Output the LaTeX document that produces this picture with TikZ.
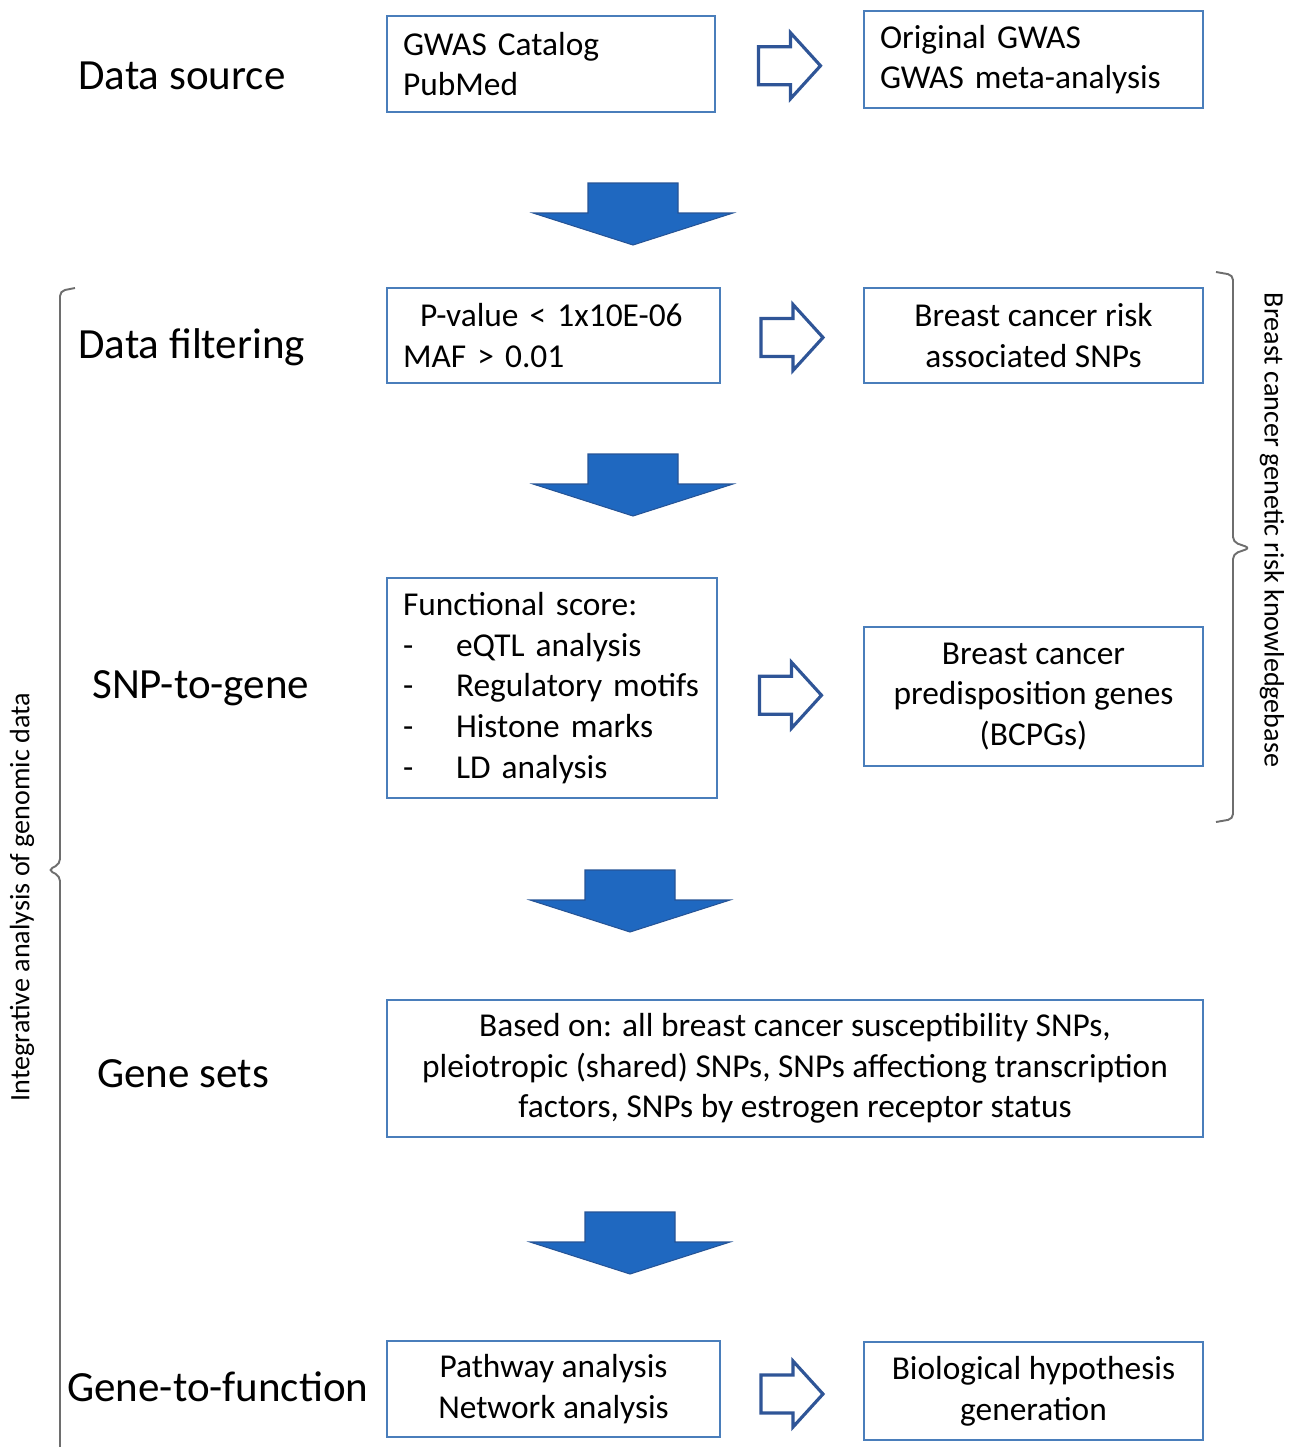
\documentclass[tikz,border=0pt]{standalone}
\usepackage{fontspec}
\setmainfont{Carlito}
\definecolor{BoxBlue}{RGB}{74,126,187}
\definecolor{ArrowBlue}{RGB}{31,104,192}
\definecolor{ArrowEdge}{RGB}{38,84,150}
\definecolor{HollowBlue}{RGB}{47,85,151}
\definecolor{BraceGray}{RGB}{110,110,110}
\usetikzlibrary{calc}
\newcommand{\listdash}{\makebox[1.06cm][l]{-}}

\tikzset{
  box/.style={draw=BoxBlue, line width=1.1pt, inner xsep=0.32cm, inner ysep=0pt,
              font=\fontsize{19}{23.2}\selectfont},
  stage/.style={anchor=west, inner sep=0pt, font=\fontsize{24.5}{29}\selectfont},
  sidetext/.style={font=\fontsize{16}{19}\selectfont},
  brace/.style={draw=BraceGray, line width=1.1pt, rounded corners=0.1cm},
  down arrow/.pic={
    \draw[fill=ArrowBlue, draw=ArrowEdge, line width=0.6pt]
      (-45,0) -- (45,0) -- (45,30) -- (100,30) -- (0,62) -- (-100,30) -- (-45,30) -- cycle;},
  next arrow/.pic={
    \draw[fill=white, draw=HollowBlue, line width=1.8pt]
      (-31,-19) -- (1,-19) -- (1,-33) -- (31,0) -- (1,33) -- (1,19) -- (-31,19) -- cycle;}
}

\begin{document}
\begin{tikzpicture}[x=0.02cm, y=-0.02cm]
  \useasboundingbox (0,0) rectangle (1297,1447);

  % stage names
  \node[stage] (lsource) at (78,76) {Data source};
  \node[stage] (lfilter) at (78,347) {Data filtering};
  \node[stage] (lsnp) at (92,688) {SNP-to-gene};
  \node[stage] (lsets) at (97,1074) {Gene sets};
  \node[stage] (lfunc) at (67,1387) {Gene-to-function};

  % boxes
  \node[box, minimum width=6.56cm, minimum height=1.92cm, text width=5.92cm, align=left]
    (catalog) at (551,64) {GWAS Catalog\\PubMed};
  \node[box, minimum width=6.78cm, minimum height=1.94cm, text width=6.14cm, align=left]
    (gwas) at (1033.5,59.5) {Original GWAS\\GWAS meta-analysis};
  \node[box, minimum width=6.66cm, minimum height=1.9cm, text width=6.02cm, align=left]
    (filter) at (553.5,335.5) {\hspace*{0.34cm}P-value < 1x10E-06\\MAF > 0.01};
  \node[box, minimum width=6.78cm, minimum height=1.9cm, align=center]
    (risksnp) at (1033.5,335.5) {Breast cancer risk\\associated SNPs};
  \node[box, minimum width=6.6cm, minimum height=4.4cm, text width=5.96cm, align=left]
    (score) at (552,688) {Functional score:\\\listdash eQTL analysis\\\listdash Regulatory motifs\\
      \listdash Histone marks\\\listdash LD analysis};
  \node[box, minimum width=6.78cm, minimum height=2.78cm, align=center]
    (bcpg) at (1033.5,696.5) {Breast cancer\\predisposition genes\\(BCPGs)};
  \node[box, minimum width=16.32cm, minimum height=2.74cm, align=center]
    (genesets) at (795,1068.5) {Based on: all breast cancer susceptibility SNPs,\\
      pleiotropic (shared) SNPs, SNPs affectiong transcription\\
      factors, SNPs by estrogen receptor status};
  \node[box, minimum width=6.66cm, minimum height=1.92cm, align=center]
    (pathway) at (553.5,1389) {Pathway analysis\\Network analysis};
  \node[box, minimum width=6.78cm, minimum height=1.96cm, align=center]
    (hypothesis) at (1033.5,1391) {Biological hypothesis\\generation};

  % hollow arrows between boxes
  \pic at ($(catalog.east)!0.5!(gwas.west)+(0,4)$) {next arrow};
  \pic at ($(filter.east)!0.5!(risksnp.west)+(0,2)$) {next arrow};
  \pic at ($(score.east)!0.5!(bcpg.west)+(0,3)$) {next arrow};
  \pic at ($(pathway.east)!0.5!(hypothesis.west)+(0,4)$) {next arrow};

  % block arrows between stages
  \pic at (633,183) {down arrow};
  \pic at (633,454) {down arrow};
  \pic at (630,870) {down arrow};
  \pic at (630,1212) {down arrow};

  % braces
  \draw[brace] (75,288) -- (60,291) -- (60,864) -- (48,870) -- (60,876) -- (60,1460);
  \draw[brace] (1216,272) -- (1233,275) -- (1233,542) -- (1250,548) -- (1233,554)
    -- (1233,819) -- (1216,822);
  \node[sidetext, rotate=90] (lintegr) at (22,897) {Integrative analysis of genomic data};
  \node[sidetext, rotate=-90] (lknow) at (1272,530) {Breast cancer genetic risk knowledgebase};
\end{tikzpicture}
\end{document}
